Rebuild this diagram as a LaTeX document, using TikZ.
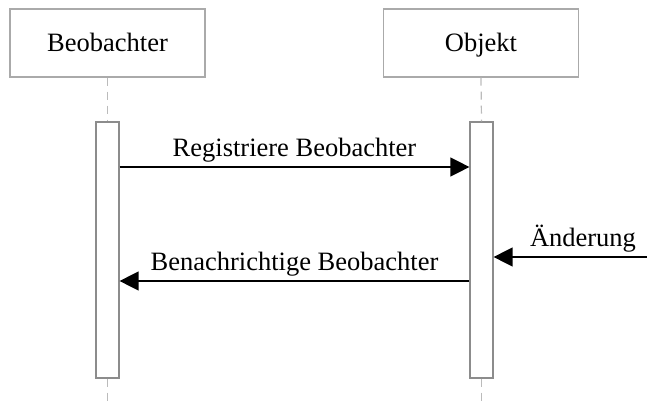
\documentclass[tikz,border=0pt]{standalone}
\usepackage{fontspec}
\setmainfont{Liberation Serif}
\usepackage{tikz}
\usetikzlibrary{arrows.meta, positioning, calc}
\definecolor{headLine}{HTML}{AAAAAA}
\definecolor{actLine}{HTML}{8C8C8C}
\definecolor{lifeLine}{HTML}{BBBBBB}
\definecolor{msgLine}{HTML}{000000}

\begin{document}
\begin{tikzpicture}[
  x=1pt, y=-1pt,
  font=\fontsize{26.5}{31}\selectfont,
  head/.style   ={draw=headLine, line width=1.2pt, fill=white,
                  minimum width=195pt, minimum height=68pt, inner sep=0pt,
                  text height=18pt, text depth=0pt},
  act/.style    ={draw=actLine, line width=1.2pt, fill=white,
                  minimum width=23pt, minimum height=256pt, inner sep=0pt},
  life/.style   ={draw=lifeLine, line width=1.2pt, dash pattern=on 8pt off 6pt},
  msg/.style    ={-{Triangle[length=19pt, width=19pt]}, draw=msgLine, line width=1.3pt},
  msglbl/.style ={inner sep=0pt, anchor=base},
]
\useasboundingbox (0,0) rectangle (647,401);

% ----- Heads -----
\node[head] (obsHead) at (107.5, 43) {Beobachter};
\node[head] (objHead) at (481, 43) {Objekt};

% ----- Activation bars -----
\node[act] (obsAct) at (107.5, 250) {};
\node[act] (objAct) at (481.5, 250) {};

% ----- Lifelines -----
\coordinate (obsEnd) at (107.5, 401);
\coordinate (objEnd) at (481.5, 401);
\draw[life] (obsHead.south) -- (obsAct.north);
\draw[life] (objHead.south) -- (objAct.north);
\draw[life] (obsAct.south) -- (obsEnd);
\draw[life] (objAct.south) -- (objEnd);

% ----- Messages -----
\coordinate (regY) at (0, 167);
\coordinate (notY) at (0, 281);
\coordinate (chgSrc) at (647, 257);

\draw[msg] (obsAct.east |- regY) -- (objAct.west |- regY);
\node[msglbl] (regLbl) at ($(obsAct.east |- regY)!0.5!(objAct.west |- regY) + (0,-11)$)
  {Registriere Beobachter};

\draw[msg] (objAct.west |- notY) -- (obsAct.east |- notY);
\node[msglbl] (notLbl) at ($(obsAct.east |- notY)!0.5!(objAct.west |- notY) + (0,-11)$)
  {Benachrichtige Beobachter};

\draw[msg] (chgSrc) -- (objAct.east |- chgSrc);
\node[msglbl] (chgLbl) at ($(chgSrc) + (-64,-11)$) {Änderung};

\end{tikzpicture}
\end{document}
